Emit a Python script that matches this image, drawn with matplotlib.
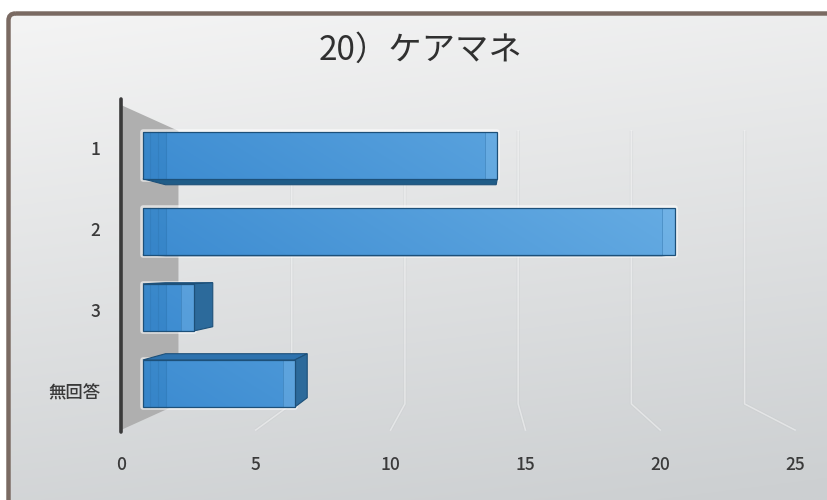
import numpy as np
import matplotlib.pyplot as plt
from matplotlib.patches import Polygon, FancyBboxPatch

# ---- data ----
categories = ['1', '2', '3', '無回答']
counts = [14, 21, 2, 6]
x_ticks = [0, 5, 10, 15, 20, 25]
title = '20）ケアマネ'

plt.rcParams['font.family'] = ['Noto Sans CJK JP', 'DejaVu Sans']

W, H = 828, 500
fig = plt.figure(figsize=(W / 100, H / 100), dpi=100)
fig.patch.set_facecolor('white')

# ---- background panel with soft gradient and rounded frame ----
bg = fig.add_axes([0, 0, 1, 1])
bg.set_xlim(0, W)
bg.set_ylim(H, 0)
bg.axis('off')
ny, nx = 200, 200
yy, xx = np.mgrid[0:1:ny * 1j, 0:1:nx * 1j]
c_top = np.array([0.958, 0.958, 0.958])
c_bot = np.array([0.80, 0.812, 0.82])
t = np.clip(yy * 0.85 + xx * 0.18, 0, 1)
grad = c_top * (1 - t)[..., None] + c_bot * t[..., None]
frame = FancyBboxPatch((8.5, 13.5), W + 40, H + 40,
                       boxstyle='round,pad=0,rounding_size=7',
                       fc='none', ec='#7a6a62', lw=3.2, zorder=3)
bg.add_patch(frame)
im = bg.imshow(grad, extent=[8, W + 10, H + 10, 13], aspect='auto', zorder=1)
im.set_clip_path(frame)

# ---- plot area (front plane coordinates) ----
ax = fig.add_axes([121 / W, 1 - 430 / H, 674 / W, 325 / H])
ax.set_facecolor('none')
Y_TOP, Y_BOT = -0.53, 3.48
ax.set_xlim(x_ticks[0], x_ticks[-1])
ax.set_ylim(Y_BOT, Y_TOP)
for s in ax.spines.values():
    s.set_visible(False)

# perspective: vanishing point and depth factors
VX, VY = 13.32, 1.47
K_WALL = 0.84
K1, K2 = 0.939, 0.876


def proj(x, y, k):
    return (VX + (x - VX) * k, VY + (y - VY) * k)


# side wall
wall = [proj(0, Y_TOP, 1), proj(0, Y_TOP, K_WALL),
        proj(0, Y_BOT, K_WALL), proj(0, Y_BOT, 1)]
ax.add_patch(Polygon(wall, closed=True, fc='#afafaf', ec='none',
                     zorder=1, clip_on=False))

# faint gridlines on the back wall and floor
for v in x_ticks[1:]:
    pts = [proj(v, Y_TOP, K_WALL), proj(v, Y_BOT, K_WALL), proj(v, Y_BOT, 1)]
    xs, ys = zip(*pts)
    ax.plot(xs, ys, color='#c4c7c9', lw=2.4, alpha=0.25, zorder=1.5,
            solid_capstyle='butt', clip_on=False)
    ax.plot(xs, ys, color='white', lw=1.1, alpha=0.45, zorder=1.6,
            clip_on=False)

# front-face colour gradient (left darker, right lighter)
gx = np.linspace(0, 1, 256)[None, :]
gy = np.linspace(0, 1, 64)[:, None]
c_left = np.array([0.24, 0.55, 0.82])
c_right = np.array([0.42, 0.69, 0.90])
tt = np.clip(gx * 1.0 - gy * 0.12 + 0.06, 0, 1)
face_grad = c_left * (1 - tt)[..., None] + c_right * tt[..., None]

EDGE = '#1d5079'
h = 0.62
for i, v in enumerate(counts):
    y0, y1 = i - h / 2, i + h / 2
    F = [proj(0, y0, K1), proj(v, y0, K1), proj(v, y1, K1), proj(0, y1, K1)]
    B = [proj(0, y0, K2), proj(v, y0, K2), proj(v, y1, K2), proj(0, y1, K2)]
    fy0, fy1 = F[0][1], F[3][1]

    # soft halo
    ax.add_patch(Polygon(F, closed=True, fc='none', ec='white', lw=4,
                         alpha=0.6, zorder=2, joinstyle='round'))

    if y0 > VY:  # top face visible
        ax.add_patch(Polygon([F[0], F[1], B[1], B[0]], closed=True,
                             fc='#2d72ae', ec=EDGE, lw=0.8, zorder=3))
    if y1 < VY:  # bottom face visible
        ax.add_patch(Polygon([F[3], F[2], B[2], B[3]], closed=True,
                             fc='#1f5c88', ec=EDGE, lw=0.8, zorder=3))
    if v < VX:  # right end visible
        ax.add_patch(Polygon([F[1], B[1], B[2], F[2]], closed=True,
                             fc='#2c6a9b', ec=EDGE, lw=0.8, zorder=3))

    front = Polygon(F, closed=True, fc='none', ec=EDGE, lw=0.9, zorder=5)
    ax.add_patch(front)
    fim = ax.imshow(face_grad, extent=[0, x_ticks[-1], fy1 + 0.02, fy0 - 0.02],
                    aspect='auto', zorder=4, interpolation='bilinear')
    fim.set_clip_path(front)

    # bevel strips at the ends of the front face
    xl0, xl1 = F[0][0], F[0][0] + 0.9
    ax.add_patch(Polygon([(xl0, fy0), (xl1, fy0), (xl1, fy1), (xl0, fy1)],
                         closed=True, fc='#2a78b8', ec='none', alpha=0.3,
                         zorder=4.5))
    for dx in (0.25, 0.55, 0.85):
        ax.plot([xl0 + dx, xl0 + dx], [fy0, fy1], color='#2f77b3',
                lw=0.8, alpha=0.45, zorder=4.6)
    xr1 = F[1][0]
    xr0 = xr1 - 0.45
    ax.add_patch(Polygon([(xr0, fy0), (xr1, fy0), (xr1, fy1), (xr0, fy1)],
                         closed=True, fc='#8cc4ee', ec='none', alpha=0.3,
                         zorder=4.5))
    ax.plot([xr0, xr0], [fy0, fy1], color='#2e74ae', lw=0.7,
            alpha=0.5, zorder=4.6)

# front edge of the wall
ax.plot([0, 0], [Y_TOP - 0.07, Y_BOT + 0.03], color='#3a3a3a', lw=2.6,
        solid_capstyle='round', zorder=6, clip_on=False)

# ticks and labels
ax.set_xticks(x_ticks)
ax.set_xticklabels([str(v) for v in x_ticks])
ax.set_yticks(range(len(categories)))
ax.set_yticklabels(categories)
ax.tick_params(axis='x', length=0, pad=19, labelsize=12.5, labelcolor='#3a3a3a')
ax.tick_params(axis='y', length=0, pad=15, labelsize=12.5, labelcolor='#3a3a3a')
for lab in ax.get_xticklabels() + ax.get_yticklabels():
    lab.set_fontweight('medium')

fig.text(421 / W, 1 - 50 / H, title, ha='center', va='center',
         fontsize=24, color='#303030')

fig.savefig('out.png', dpi=100)
